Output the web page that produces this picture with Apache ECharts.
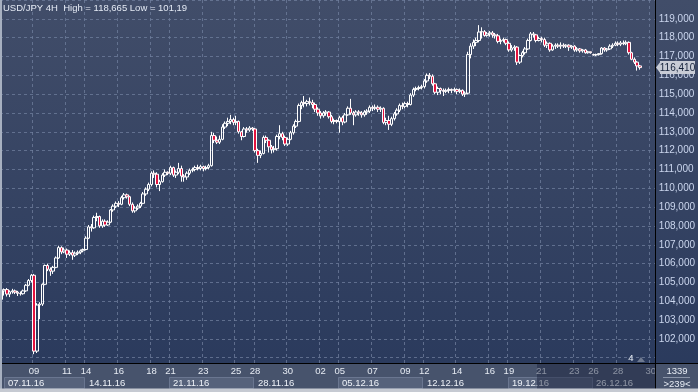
<!DOCTYPE html>
<html><head><meta charset="utf-8">
<script src="https://cdn.jsdelivr.net/npm/echarts@6/dist/echarts.min.js"></script>
<style>html,body{margin:0;padding:0;background:#2e3c5c;overflow:hidden}#c{width:698px;height:392px}</style>
</head><body><div id="c"></div>
<script>
// ---- data ----
const titleText = 'USD/JPY 4H  High = 118,665 Low = 101,19';
const days = ['07.11','08.11','09.11','10.11','11.11','13.11',
  '14.11','15.11','16.11','17.11','18.11','20.11',
  '21.11','22.11','23.11','24.11','25.11','27.11',
  '28.11','29.11','30.11','01.12','02.12','04.12',
  '05.12','06.12','07.12','08.12','09.12','11.12',
  '12.12','13.12','14.12','15.12','16.12','18.12',
  '19.12','20.12','21.12','22.12','23.12','25.12',
  '26.12','27.12','28.12','29.12','30.12'];
const candlesPerDay = [6,6,6,6,6,1, 6,6,6,6,6,1, 6,6,6,6,6,1, 6,6,6,6,6,1,
  6,6,6,6,6,1, 6,6,6,6,6,1, 6,6,6,6,6,1, 3,6,6,6,6];
const hours = ['00','04','08','12','16','20'];
const labelDays = ['09.11','11.11','14.11','16.11','18.11','21.11','23.11','25.11','28.11','30.11',
  '02.12','05.12','07.12','09.12','12.12','14.12','16.12','19.12','21.12','23.12','26.12','28.12','30.12'];
const weekStartDays = ['07.11','14.11','21.11','28.11','05.12','12.12','19.12','26.12'];
const weekLabels = ['07.11.16','14.11.16','21.11.16','28.11.16','05.12.16','12.12.16','19.12.16','26.12.16'];
const lastPrice = 116.41;
const cornerTop = '1339';
const cornerBottom = '>239<';
const eventCount = '4';

// [open, close, low, high]
const week1 = [
[104.10,104.55,103.82,104.65],[104.55,104.62,104.30,104.68],[104.62,104.38,104.25,104.70],
[104.38,104.50,104.22,104.58],[104.50,104.55,104.40,104.66],[104.55,104.48,104.38,104.62],
[104.48,104.42,104.28,104.55],[104.42,104.40,104.30,104.52],[104.40,104.55,104.35,104.62],
[104.55,104.85,104.50,104.92],[104.85,105.10,104.80,105.18],[105.10,105.38,105.00,105.45],
[105.38,101.35,101.19,105.45],[101.35,103.80,101.25,103.90],[103.80,103.85,103.05,103.95],
[103.85,104.90,103.75,104.95],[104.90,105.90,104.85,105.95],[105.90,105.70,105.60,106.00],
[105.70,105.60,105.35,105.80],[105.60,105.80,105.45,105.88],[105.80,106.30,105.75,106.38],
[106.30,106.85,106.25,106.95],[106.85,106.62,106.50,106.92],[106.62,106.72,106.55,106.85],
[106.72,106.50,106.30,106.80],[106.50,106.58,106.40,106.70],[106.58,106.45,106.20,106.72],
[106.45,106.55,106.35,106.65],[106.55,106.60,106.45,106.70],[106.60,106.68,106.50,106.75],
[106.68,106.75,106.60,106.80]];
const week2 = [
[106.75,107.35,106.70,107.45],[107.35,107.95,107.30,108.05],[107.95,107.90,107.70,108.10],
[107.90,108.45,107.85,108.55],[108.45,108.50,108.25,108.70],[108.50,108.00,107.90,108.55],
[108.00,108.25,107.90,108.35],[108.25,108.05,107.95,108.35],[108.05,108.20,108.00,108.30],
[108.20,108.85,108.15,108.90],[108.85,109.05,108.75,109.15],[109.05,109.20,108.95,109.30],
[109.20,109.15,109.00,109.32],[109.15,109.50,109.10,109.60],[109.50,109.65,109.40,109.75],
[109.65,109.55,109.45,109.72],[109.55,109.15,109.05,109.60],[109.15,108.80,108.70,109.25],
[108.80,108.95,108.70,109.05],[108.95,109.05,108.85,109.15],[109.05,109.20,108.95,109.28],
[109.20,109.70,109.15,109.80],[109.70,109.95,109.60,110.05],[109.95,110.20,109.85,110.30],
[110.20,110.80,110.10,110.90],[110.80,110.75,110.55,110.95],[110.75,110.20,110.05,110.85],
[110.20,110.35,109.85,110.45],[110.35,110.70,110.30,110.80],[110.70,110.85,110.60,111.00],
[110.85,110.80,110.70,110.90]];
const week3 = [
[110.80,111.10,110.70,111.20],[111.10,110.70,110.60,111.15],[110.70,110.85,110.55,110.95],
[110.85,111.05,110.75,111.35],[111.05,110.65,110.35,111.20],[110.65,110.60,110.35,110.75],
[110.60,110.80,110.45,110.90],[110.80,110.95,110.70,111.05],[110.95,111.00,110.85,111.10],
[111.00,111.10,110.90,111.20],[111.10,111.05,110.95,111.25],[111.05,111.15,110.95,111.25],
[111.15,111.05,110.90,111.20],[111.05,111.10,110.95,111.20],[111.10,111.20,111.00,111.30],
[111.20,112.80,111.15,113.00],[112.80,112.55,112.40,112.95],[112.55,112.45,112.35,112.75],
[112.45,112.60,112.35,112.80],[112.60,113.25,112.55,113.40],[113.25,113.45,113.15,113.55],
[113.45,113.55,113.30,113.75],[113.55,113.65,113.40,113.90],[113.65,113.50,113.35,113.75],
[113.50,113.55,113.35,113.85],[113.55,113.00,112.90,113.60],[113.00,112.75,112.55,113.05],
[112.75,113.15,112.70,113.25],[113.15,113.10,112.95,113.25],[113.10,113.20,113.00,113.30],
[113.20,113.15,113.05,113.25]];
const week4 = [
[113.15,112.00,111.90,113.20],[112.00,111.75,111.35,112.10],[111.75,111.85,111.60,112.00],
[111.85,112.70,111.80,112.80],[112.70,112.55,112.40,112.80],[112.55,112.20,111.90,112.60],
[112.20,112.05,111.85,112.30],[112.05,112.10,111.90,112.25],[112.10,112.75,112.00,112.85],
[112.75,112.90,112.60,113.35],[112.90,112.70,112.55,113.00],[112.70,112.35,112.25,112.80],
[112.35,112.60,112.25,112.70],[112.60,112.95,112.55,113.05],[112.95,113.30,112.85,113.40],
[113.30,113.55,113.20,113.65],[113.55,114.40,113.50,114.50],[114.40,114.55,114.20,114.65],
[114.55,114.50,114.30,114.90],[114.50,114.60,114.35,114.70],[114.60,114.55,114.40,114.82],
[114.55,114.45,114.25,114.70],[114.45,114.20,114.05,114.55],[114.20,114.00,113.85,114.30],
[114.00,113.85,113.70,114.10],[113.85,114.00,113.75,114.10],[114.00,114.05,113.85,114.15],
[114.05,113.80,113.70,114.10],[113.80,113.55,113.45,113.90],[113.55,113.60,113.40,113.70],
[113.60,113.55,113.45,113.65]];
const week5 = [
[113.55,113.75,112.95,113.85],[113.75,113.52,113.35,113.85],[113.52,113.90,113.45,114.00],
[113.90,114.25,113.85,114.35],[114.25,114.00,113.90,114.75],[114.00,113.90,113.35,114.10],
[113.90,114.05,113.80,114.15],[114.05,114.00,113.85,114.15],[114.00,113.90,113.75,114.10],
[113.90,114.05,113.80,114.15],[114.05,114.10,113.90,114.20],[114.10,114.30,114.00,114.40],
[114.30,114.25,114.10,114.40],[114.25,114.30,114.15,114.45],[114.30,114.20,114.05,114.40],
[114.20,114.25,114.05,114.35],[114.25,113.50,113.40,114.30],[113.50,113.60,113.35,113.75],
[113.60,113.40,113.10,113.85],[113.40,113.70,113.30,113.80],[113.70,113.95,113.60,114.05],
[113.95,114.15,113.85,114.25],[114.15,114.40,114.05,114.50],[114.40,114.35,114.20,114.55],
[114.35,114.50,114.25,114.60],[114.50,114.45,114.30,114.60],[114.45,114.95,114.40,115.05],
[114.95,115.25,114.85,115.35],[115.25,115.30,115.15,115.40],[115.30,115.35,115.20,115.45],
[115.35,115.40,115.25,115.50]];
const week6 = [
[115.40,115.70,115.30,115.80],[115.70,116.00,115.60,116.10],[116.00,115.95,115.80,116.12],
[115.95,115.55,115.45,116.05],[115.55,115.10,115.00,115.60],[115.10,115.30,114.95,115.40],
[115.30,115.20,115.00,115.35],[115.20,115.15,114.90,115.30],[115.15,115.20,115.05,115.30],
[115.20,115.25,115.05,115.35],[115.25,115.20,115.05,115.30],[115.20,115.25,115.10,115.35],
[115.25,115.15,115.00,115.30],[115.15,115.20,115.05,115.30],[115.20,115.00,114.90,115.25],
[115.00,115.05,114.85,115.15],[115.05,117.10,114.98,117.25],[117.10,117.55,116.90,117.70],
[117.55,117.75,117.40,117.90],[117.75,117.85,117.55,118.00],[117.85,118.30,117.75,118.665],
[118.30,118.32,117.95,118.55],[118.32,118.12,118.05,118.40],[118.12,118.20,118.05,118.30],
[118.20,118.25,118.05,118.35],[118.25,118.15,118.00,118.35],[118.15,118.10,117.95,118.25],
[118.10,117.80,117.70,118.20],[117.80,117.85,117.65,117.95],[117.85,117.90,117.75,118.00],
[117.90,117.70,117.60,117.95]];
const week7 = [
[117.70,117.35,117.25,117.80],[117.35,117.45,117.25,117.60],[117.45,117.50,117.30,117.60],
[117.50,116.70,116.55,117.55],[116.70,117.05,116.60,117.10],[117.05,117.20,116.95,117.30],
[117.20,117.40,117.10,117.50],[117.40,117.85,117.35,117.95],[117.85,118.20,117.80,118.30],
[118.20,118.15,118.00,118.30],[118.15,117.85,117.75,118.20],[117.85,117.95,117.80,118.05],
[117.95,117.90,117.75,118.05],[117.90,117.60,117.50,118.00],[117.60,117.70,117.45,117.80],
[117.70,117.35,117.25,117.75],[117.35,117.55,117.30,117.65],[117.55,117.60,117.40,117.70],
[117.60,117.55,117.45,117.70],[117.55,117.60,117.40,117.75],[117.60,117.55,117.45,117.70],
[117.55,117.60,117.45,117.65],[117.60,117.50,117.30,117.65],[117.50,117.55,117.40,117.60],
[117.55,117.35,117.25,117.60],[117.35,117.40,117.25,117.50],[117.40,117.30,117.20,117.45],
[117.30,117.35,117.20,117.40],[117.35,117.20,117.15,117.40],[117.20,117.25,117.15,117.30],
[117.25,117.20,117.15,117.25]];
const week8 = [
[117.10,117.08,117.05,117.15],[117.08,117.10,117.02,117.15],[117.10,117.15,117.05,117.18],
[117.15,117.45,117.10,117.50],[117.45,117.35,117.25,117.50],[117.35,117.40,117.25,117.45],
[117.40,117.55,117.35,117.65],[117.55,117.60,117.45,117.70],[117.60,117.70,117.55,117.80],
[117.70,117.65,117.55,117.80],[117.65,117.72,117.55,117.82],[117.72,117.68,117.60,117.85],
[117.68,117.75,117.60,117.85],[117.75,117.20,117.10,117.80],[117.20,116.85,116.80,117.25],
[116.85,116.70,116.60,116.95],[116.70,116.50,116.25,116.75],[116.50,116.41,116.30,116.55]];

// ---- build ----
const categories = [];
const dayStart = {};
days.forEach((d, i) => {
  dayStart[d] = categories.length;
  for (let k = 0; k < candlesPerDay[i]; k++) {
    categories.push(d + ' ' + (candlesPerDay[i] === 1 ? '20' : hours[k]));
  }
});
const labelIdx = new Set(labelDays.map(d => dayStart[d]));
const candles = [].concat(week1, week2, week3, week4, week5, week6, week7, week8);
const fmt = v => v.toFixed(3).replace('.', ',');

const FONT = 'Liberation Sans, Arial, sans-serif';
const FS = 9.5;
const gridLine = { color: 'rgba(112,127,158,0.75)', width: 1, type: [3, 3] };
const chart = echarts.init(document.getElementById('c'), null, { renderer: 'canvas' });

const option = {
  animation: false,
  backgroundColor: { type: 'linear', x: 0, y: 0, x2: 0, y2: 1,
    colorStops: [{ offset: 0, color: '#414d69' }, { offset: 1, color: '#29395c' }] },
  title: { text: titleText, left: 3, top: 3, padding: 0,
    textStyle: { color: '#e4eaf4', fontSize: 9.5, fontWeight: 'normal', fontFamily: FONT } },
  grid: { left: 0, right: 43, top: 0, bottom: 29 },
  xAxis: { type: 'category', data: categories, boundaryGap: true, max: 239,
      axisLine: { show: true, lineStyle: { color: '#000', width: 1 } },
      axisTick: { show: false },
      axisLabel: { interval: (i) => labelIdx.has(i), formatter: (v) => v.slice(0, 2),
        color: '#e6ebf3', fontSize: FS, fontFamily: FONT, margin: 3 },
      splitLine: { show: true, interval: (i) => labelIdx.has(i), lineStyle: gridLine } },
  yAxis: { type: 'value', position: 'right', min: 100.72, max: 120, splitNumber: 19, scale: true,
      axisLine: { show: true, lineStyle: { color: '#000', width: 1 } },
      axisTick: { show: false },
      axisLabel: { margin: 4, color: '#cbd6ee', fontSize: 10, fontFamily: FONT, showMinLabel: false, showMaxLabel: false,
        formatter: (v) => (Number.isInteger(v) && v > 101 && v < 120) ? fmt(v) : '' },
      splitLine: { show: true, lineStyle: gridLine } },
  series: [{
    type: 'candlestick', data: candles, barWidth: 3,
    itemStyle: { color: 'rgba(0,0,0,0)', color0: '#e3123e', borderColor: '#ffffff', borderColor0: '#ffffff', borderWidth: 1 }
  }]
};
chart.setOption(option);

// decorations placed through the library's own scales
const py = chart.convertToPixel({ yAxisIndex: 0 }, lastPrice);
const xAt = (i) => chart.convertToPixel({ xAxisIndex: 0 }, i);
const band = xAt(1) - xAt(0);
const plotRight = 655;
const gfx = [
  { type: 'rect', z: -1, shape: { x: 0, y: 363, width: 698, height: 29 }, style: { fill: '#47536c' } }
];
weekStartDays.forEach((d, w) => {
  const i0 = dayStart[d];
  const i1 = w + 1 < weekStartDays.length ? dayStart[weekStartDays[w + 1]] : categories.length;
  let x0 = xAt(i0) - band / 2;
  let x1 = Math.min(plotRight, xAt(i1) - band / 2);
  if (x0 < 4) x0 = 4;
  if (w % 2 === 0) {
    gfx.push({ type: 'rect', z: 5, shape: { x: Math.round(x0) + 0.5, y: 377.5, width: Math.round(x1 - x0) - 1, height: 11 },
      style: { fill: '#56627b', stroke: '#6a7690', lineWidth: 1 } });
  }
  gfx.push({ type: 'text', z: 6, style: { text: weekLabels[w], x: Math.round(x0) + 4, y: 383.5, textVerticalAlign: 'middle',
    fill: '#eef2f8', fontSize: FS, fontFamily: FONT } });
});
gfx.push(
  { type: 'rect', z: 100, shape: { x: 537, y: 364, width: 118, height: 25 }, style: { fill: 'rgba(24,34,60,0.45)' } },
  { type: 'line', z: 101, shape: { x1: 0, y1: 363.5, x2: 698, y2: 363.5 }, style: { stroke: '#000', lineWidth: 1 } },
  { type: 'line', z: 101, shape: { x1: 655.5, y1: 0, x2: 655.5, y2: 392 }, style: { stroke: '#000', lineWidth: 1 } },
  { type: 'rect', z: 102, shape: { x: 0, y: 0, width: 2, height: 392 }, style: { fill: '#a7b0c0' } },
  { type: 'rect', z: 102, shape: { x: 0, y: 388.5, width: 698, height: 3.5 }, style: { fill: '#c6cad2' } },
  { type: 'polygon', z: 50, shape: { points: [[656, py], [661, py - 6.5], [661, py + 6.5]] }, style: { fill: '#c8ccd6' } },
  { type: 'rect', z: 50, shape: { x: 660, y: py - 6.5, width: 35, height: 13 }, style: { fill: '#c8ccd6' } },
  { type: 'text', z: 51, style: { text: fmt(lastPrice), x: 677.5, y: py + 0.5, textAlign: 'center', textVerticalAlign: 'middle',
    fill: '#14213a', fontSize: 10, fontFamily: FONT } },
  { type: 'text', z: 103, style: { text: cornerTop, x: 677, y: 366, textAlign: 'center', fill: '#e8edf5', fontSize: FS, fontFamily: FONT } },
  { type: 'line', z: 103, shape: { x1: 663, y1: 377.5, x2: 690, y2: 377.5 }, style: { stroke: '#8a94a8', lineWidth: 1 } },
  { type: 'text', z: 103, style: { text: cornerBottom, x: 677, y: 379, textAlign: 'center', fill: '#e8edf5', fontSize: FS, fontFamily: FONT } },
  { type: 'text', z: 60, style: { text: eventCount, x: 631, y: 353, textAlign: 'center', fill: '#e8edf5', fontSize: FS, fontFamily: FONT } },
  { type: 'polygon', z: 60, shape: { points: [[637, 362], [641, 357], [645, 362]] }, style: { fill: '#6f7a90' } }
);
chart.setOption({ graphic: gfx });
</script>
</body></html>
